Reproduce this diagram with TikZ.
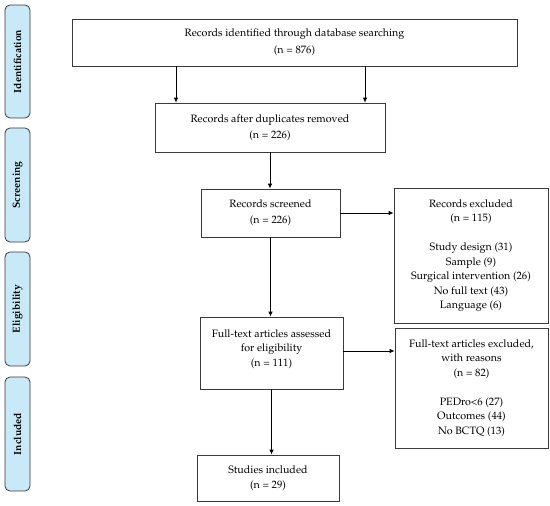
\documentclass[tikz,border=0pt]{standalone}
\usepackage[T1]{fontenc}
\usepackage{mathpazo}
\usetikzlibrary{arrows.meta}
\definecolor{sidefill}{HTML}{C8EAF8}
\definecolor{lineg}{HTML}{3A3A3A}
\tikzset{
  box/.style={draw=lineg, line width=0.8pt, inner sep=0pt, align=center,
    font=\fontsize{10.7}{14.5}\selectfont},
  side/.style={draw=lineg, fill=sidefill, line width=0.8pt, rounded corners=5pt,
    minimum width=25pt, minimum height=113pt, inner sep=0pt,
    font=\fontsize{10.3}{12}\selectfont\bfseries},
  arr/.style={draw=black, line width=0.8pt, -{Latex[length=5pt,width=4.5pt]}}
}
\begin{document}
\begin{tikzpicture}[x=1pt,y=1pt]
\useasboundingbox (0,0) rectangle (550,-506);
% side labels
\node[side, minimum height=113pt] (sid) at (17.5,-61.5) {\rotatebox{90}{Identification}};
\node[side, minimum height=114pt] (ssc) at (17.5,-185) {\rotatebox{90}{Screening}};
\node[side, minimum height=114pt] (sel) at (17.5,-309) {\rotatebox{90}{Eligibility}};
\node[side, minimum height=114pt] (sin) at (17.5,-434) {\rotatebox{90}{Included}};
% boxes
\node[box, minimum width=445pt, minimum height=47pt] (b1) at (294.5,-42.5)
  {Records identified through database searching\\[2.5pt](n = 876)};
\node[box, minimum width=230pt, minimum height=49pt] (b2) at (270,-127.5)
  {Records after duplicates removed\\[1.5pt](n = 226)};
\node[box, minimum width=139pt, minimum height=48pt] (b3) at (270.5,-213)
  {Records screened\\[1.5pt](n = 226)};
\node[box, minimum width=154pt, minimum height=135pt] (e1) at (471,-255.5)
  {Records excluded\\(n = 115)\\[14.5pt]Study design (31)\\Sample (9)\\Surgical intervention (26)\\No full text (43)\\Language (6)};
\node[box, minimum width=143pt, minimum height=72pt] (b4) at (271.5,-353)
  {Full-text articles assessed\\for eligibility\\(n = 111)\\[-4.5pt]\mbox{}};
\node[box, minimum width=153pt, minimum height=120pt] (e2) at (471.5,-388)
  {Full-text articles excluded,\\with reasons\\(n = 82)\\[14.5pt]PEDro\textless6 (27)\\Outcomes (44)\\No BCTQ (13)};
\node[box, minimum width=142pt, minimum height=46pt] (b5) at (268,-478)
  {Studies included\\[1pt](n = 29)};
% connectors
\coordinate (xa) at (176,0);
\coordinate (xb) at (365,0);
\draw[arr] (b1.south -| xa) -- (b2.north -| xa);
\draw[arr] (b1.south -| xb) -- (b2.north -| xb);
\draw[arr] (b2.south) -- (b2.south |- b3.north);
\draw[arr] (b3.east) -- (b3.east -| e1.west);
\draw[arr] (b3.south) -- (b3.south |- b4.north);
\draw[arr] ([yshift=2pt]b4.east) -- ([yshift=2pt]b4.east -| e2.west);
\draw[arr] (b4.south) -- (b4.south |- b5.north);
\end{tikzpicture}
\end{document}
